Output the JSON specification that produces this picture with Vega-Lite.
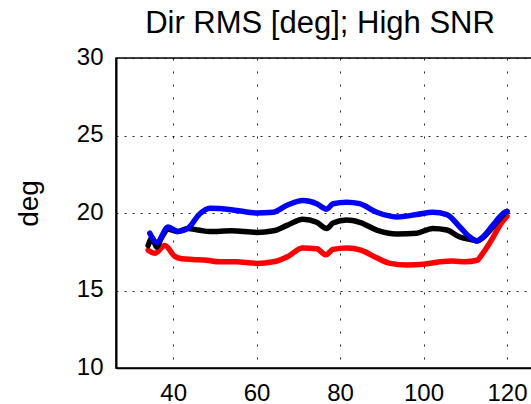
{
  "$schema": "https://vega.github.io/schema/vega-lite/v6.json",
  "width": 416,
  "height": 310,
  "autosize": {"type": "none"},
  "padding": {"left": 116, "top": 58, "right": 0, "bottom": 36},
  "background": "white",
  "config": {
    "font": "Liberation Sans",
    "view": {"stroke": "black", "strokeWidth": 1.5}
  },
  "title": {
    "text": "Dir RMS [deg]; High SNR",
    "fontSize": 31,
    "fontWeight": "normal",
    "font": "Liberation Sans",
    "color": "black",
    "frame": "group",
    "anchor": "middle",
    "baseline": "alphabetic",
    "offset": 0,
    "dy": 19,
    "dx": -4
  },
  "data": {
    "values": [
      {"s": "red", "x": 34.0, "y": 17.6},
      {"s": "red", "x": 35.6, "y": 17.4},
      {"s": "red", "x": 38.0, "y": 17.9},
      {"s": "red", "x": 40.4, "y": 17.2},
      {"s": "red", "x": 42.1, "y": 17.05},
      {"s": "red", "x": 44.7, "y": 17.0},
      {"s": "red", "x": 48.1, "y": 16.95},
      {"s": "red", "x": 51.0, "y": 16.85},
      {"s": "red", "x": 55.0, "y": 16.85},
      {"s": "red", "x": 60.0, "y": 16.75},
      {"s": "red", "x": 64.0, "y": 16.85},
      {"s": "red", "x": 67.5, "y": 17.2},
      {"s": "red", "x": 71.0, "y": 17.75},
      {"s": "red", "x": 74.4, "y": 17.7},
      {"s": "red", "x": 76.6, "y": 17.3},
      {"s": "red", "x": 78.3, "y": 17.65},
      {"s": "red", "x": 81.6, "y": 17.75},
      {"s": "red", "x": 85.0, "y": 17.6},
      {"s": "red", "x": 88.5, "y": 17.15},
      {"s": "red", "x": 92.0, "y": 16.75},
      {"s": "red", "x": 96.0, "y": 16.65},
      {"s": "red", "x": 100.0, "y": 16.7},
      {"s": "red", "x": 104.0, "y": 16.85},
      {"s": "red", "x": 107.0, "y": 16.9},
      {"s": "red", "x": 110.0, "y": 16.85},
      {"s": "red", "x": 112.8, "y": 16.95},
      {"s": "red", "x": 114.2, "y": 17.4},
      {"s": "red", "x": 116.6, "y": 18.4},
      {"s": "red", "x": 118.5, "y": 19.3},
      {"s": "red", "x": 120.0, "y": 19.8},
      {"s": "black", "x": 34.0, "y": 17.9},
      {"s": "black", "x": 35.0, "y": 18.4},
      {"s": "black", "x": 36.0, "y": 17.8},
      {"s": "black", "x": 37.2, "y": 18.4},
      {"s": "black", "x": 38.8, "y": 18.95},
      {"s": "black", "x": 41.1, "y": 18.8},
      {"s": "black", "x": 43.5, "y": 19.0},
      {"s": "black", "x": 46.0, "y": 18.9},
      {"s": "black", "x": 48.8, "y": 18.8},
      {"s": "black", "x": 54.0, "y": 18.85},
      {"s": "black", "x": 60.0, "y": 18.75},
      {"s": "black", "x": 64.0, "y": 18.85},
      {"s": "black", "x": 67.3, "y": 19.2},
      {"s": "black", "x": 71.1, "y": 19.6},
      {"s": "black", "x": 74.4, "y": 19.4},
      {"s": "black", "x": 76.8, "y": 19.0},
      {"s": "black", "x": 78.3, "y": 19.35},
      {"s": "black", "x": 81.6, "y": 19.55},
      {"s": "black", "x": 84.7, "y": 19.4},
      {"s": "black", "x": 88.8, "y": 18.9},
      {"s": "black", "x": 93.6, "y": 18.65},
      {"s": "black", "x": 98.4, "y": 18.7},
      {"s": "black", "x": 102.2, "y": 19.0},
      {"s": "black", "x": 105.6, "y": 18.9},
      {"s": "black", "x": 108.7, "y": 18.45},
      {"s": "black", "x": 111.1, "y": 18.3},
      {"s": "black", "x": 112.8, "y": 18.2},
      {"s": "black", "x": 114.2, "y": 18.4},
      {"s": "black", "x": 116.6, "y": 19.1},
      {"s": "black", "x": 119.5, "y": 20.0},
      {"s": "black", "x": 120.0, "y": 20.1},
      {"s": "blue", "x": 34.4, "y": 18.7},
      {"s": "blue", "x": 36.1, "y": 18.1},
      {"s": "blue", "x": 38.8, "y": 19.1},
      {"s": "blue", "x": 41.1, "y": 18.8},
      {"s": "blue", "x": 43.5, "y": 19.0},
      {"s": "blue", "x": 46.4, "y": 19.95},
      {"s": "blue", "x": 48.8, "y": 20.3},
      {"s": "blue", "x": 54.3, "y": 20.2},
      {"s": "blue", "x": 60.0, "y": 20.0},
      {"s": "blue", "x": 63.9, "y": 20.05},
      {"s": "blue", "x": 67.3, "y": 20.5},
      {"s": "blue", "x": 71.1, "y": 20.8},
      {"s": "blue", "x": 74.4, "y": 20.6},
      {"s": "blue", "x": 76.8, "y": 20.25},
      {"s": "blue", "x": 78.3, "y": 20.6},
      {"s": "blue", "x": 81.6, "y": 20.7},
      {"s": "blue", "x": 84.7, "y": 20.6},
      {"s": "blue", "x": 88.8, "y": 20.05},
      {"s": "blue", "x": 93.6, "y": 19.75},
      {"s": "blue", "x": 98.4, "y": 19.9},
      {"s": "blue", "x": 102.2, "y": 20.05},
      {"s": "blue", "x": 105.6, "y": 19.9},
      {"s": "blue", "x": 108.7, "y": 19.1},
      {"s": "blue", "x": 111.1, "y": 18.45},
      {"s": "blue", "x": 112.8, "y": 18.2},
      {"s": "blue", "x": 114.2, "y": 18.45},
      {"s": "blue", "x": 116.6, "y": 19.2},
      {"s": "blue", "x": 119.5, "y": 20.05},
      {"s": "blue", "x": 120.0, "y": 20.1}
    ]
  },
  "encoding": {
    "x": {
      "field": "x",
      "type": "quantitative",
      "scale": {"domain": [26.3, 126], "nice": false, "zero": false},
      "axis": {
        "values": [40, 60, 80, 100, 120],
        "title": null,
        "ticks": false,
        "labelPadding": 13,
        "labelFontSize": 24,
        "labelColor": "black",
        "labelFont": "Liberation Sans",
        "domainColor": "black",
        "domainWidth": 1.5,
        "grid": true,
        "gridColor": "black",
        "gridDash": [2, 11],
        "gridWidth": 1,
        "gridOpacity": 0.85
      }
    },
    "y": {
      "field": "y",
      "type": "quantitative",
      "scale": {"domain": [10, 30], "nice": false, "zero": false},
      "axis": {
        "values": [10, 15, 20, 25, 30],
        "title": "deg",
        "titleFontSize": 28,
        "titleFontWeight": "normal",
        "titleColor": "black",
        "titleFont": "Liberation Sans",
        "titleX": -87,
        "titleY": 145,
        "titleAngle": 270,
        "titleAlign": "center",
        "titleBaseline": "middle",
        "ticks": false,
        "labelPadding": 13,
        "labelFontSize": 24,
        "labelColor": "black",
        "labelFont": "Liberation Sans",
        "labelOffset": -1,
        "domainColor": "black",
        "domainWidth": 2,
        "grid": true,
        "gridColor": "black",
        "gridDash": [2, 6],
        "gridWidth": 1,
        "gridOpacity": 0.85
      }
    }
  },
  "layer": [
    {
      "transform": [{"filter": "datum.s === 'red'"}],
      "mark": {"type": "line", "color": "#ff0000", "strokeWidth": 5.5, "strokeCap": "round", "strokeJoin": "round", "interpolate": "monotone"}
    },
    {
      "transform": [{"filter": "datum.s === 'black'"}],
      "mark": {"type": "line", "color": "#000000", "strokeWidth": 5.5, "strokeCap": "round", "strokeJoin": "round", "interpolate": "monotone"}
    },
    {
      "transform": [{"filter": "datum.s === 'blue'"}],
      "mark": {"type": "line", "color": "#0000ff", "strokeWidth": 5.5, "strokeCap": "round", "strokeJoin": "round", "interpolate": "monotone"}
    }
  ]
}
